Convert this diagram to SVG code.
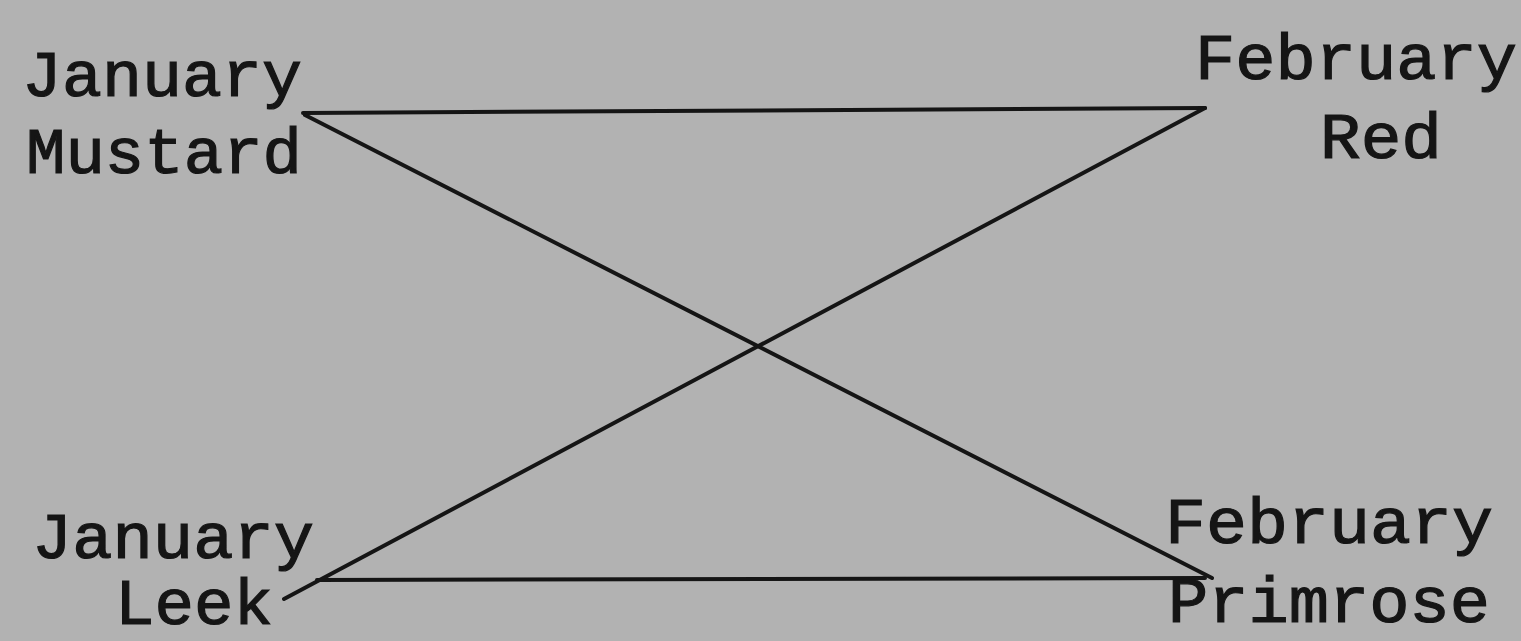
<svg xmlns="http://www.w3.org/2000/svg" width="1521" height="641" viewBox="0 0 1521 641">
<style>
.bg{fill:#b2b2b2}
.lbl{font-family:"Liberation Mono","DejaVu Sans Mono",monospace;font-size:64px;fill:#151515;stroke:#151515;stroke-width:1.2}
.edge{stroke:#151515;stroke-width:4;fill:none;stroke-linecap:round}
</style>
<rect class="bg" x="0" y="0" width="1521" height="641"/>
<g id="connectors">
<line class="edge" x1="303" y1="113" x2="1205" y2="108"/>
<line class="edge" x1="305" y1="115" x2="1212" y2="578"/>
<line class="edge" x1="1205" y1="108" x2="284" y2="599"/>
<line class="edge" x1="317" y1="580" x2="1205" y2="578"/>
</g>
<g id="jan-mustard">
<text class="lbl"><tspan x="22" y="96" textLength="280" lengthAdjust="spacingAndGlyphs">January</tspan><tspan x="26" y="173" textLength="276" lengthAdjust="spacingAndGlyphs">Mustard</tspan></text>
</g>
<g id="feb-red">
<text class="lbl"><tspan x="1195" y="79" textLength="322" lengthAdjust="spacingAndGlyphs">February</tspan><tspan x="1320" y="158" textLength="122" lengthAdjust="spacingAndGlyphs">Red</tspan></text>
</g>
<g id="jan-leek">
<text class="lbl"><tspan x="32" y="558" textLength="282" lengthAdjust="spacingAndGlyphs">January</tspan><tspan x="115" y="624" textLength="158" lengthAdjust="spacingAndGlyphs">Leek</tspan></text>
</g>
<g id="feb-primrose">
<text class="lbl"><tspan x="1165" y="543" textLength="328" lengthAdjust="spacingAndGlyphs">February</tspan><tspan x="1168" y="622" textLength="322" lengthAdjust="spacingAndGlyphs">Primrose</tspan></text>
</g>
</svg>
